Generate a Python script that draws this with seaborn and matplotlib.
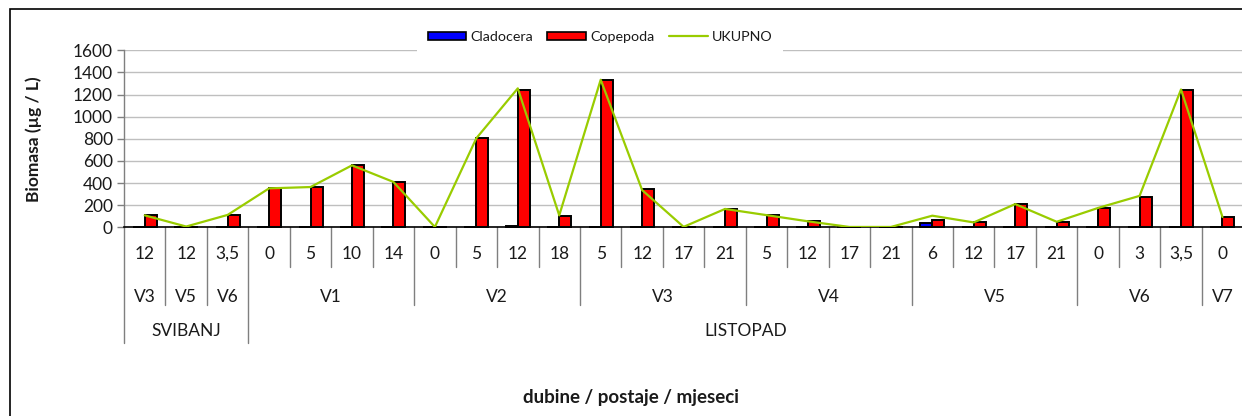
import numpy as np
import pandas as pd
import matplotlib
matplotlib.use("Agg")
import matplotlib.pyplot as plt
import matplotlib.transforms as mtransforms
from matplotlib.lines import Line2D
from matplotlib.patches import Patch, Rectangle
import seaborn as sns

# ---------------- data ----------------
months = ["SVIBANJ"] * 3 + ["LISTOPAD"] * 24
stations = ["V3", "V5", "V6",
            "V1", "V1", "V1", "V1",
            "V2", "V2", "V2", "V2",
            "V3", "V3", "V3", "V3",
            "V4", "V4", "V4", "V4",
            "V5", "V5", "V5", "V5",
            "V6", "V6", "V6",
            "V7"]
depths = ["12", "12", "3,5",
          "0", "5", "10", "14",
          "0", "5", "12", "18",
          "5", "12", "17", "21",
          "5", "12", "17", "21",
          "6", "12", "17", "21",
          "0", "3", "3,5",
          "0"]
cladocera = [0, 3, 0,
             0, 0, 0, 0,
             0, 0, 15, 0,
             5, 0, 0, 0,
             0, 0, 0, 0,
             36, 0, 0, 0,
             0, 6, 0,
             0]
copepoda = [108, 4, 108,
            352, 364, 560, 410,
            3, 805, 1241, 103,
            1329, 342, 3, 166,
            112, 55, 2, 3,
            69, 45, 211, 51,
            172, 274, 1241,
            93]
ukupno = [108, 7, 112,
          352, 364, 560, 410,
          3, 805, 1256, 108,
          1334, 336, 4, 166,
          110, 54, 3, 3,
          105, 44, 210, 50,
          175, 284, 1246,
          93]

keys = [f"{m}|{s}|{d}|{i}" for i, (m, s, d) in enumerate(zip(months, stations, depths))]
df = pd.DataFrame({
    "key": keys * 2,
    "group": ["Cladocera"] * len(keys) + ["Copepoda"] * len(keys),
    "value": cladocera + copepoda,
})

# ---------------- style ----------------
sns.set_theme(style="white")
plt.rcParams["font.family"] = ["Lato", "DejaVu Sans"]
TXT = "#1a1a1a"
GRID = "#bfbfbf"
SEP = "#7f7f7f"
GREEN = "#99CC00"
FS = 12.5

W, H = 1242, 416
fig = plt.figure(figsize=(W / 100, H / 100), dpi=100)
ax_left, ax_right = 124 / W, 1243.2 / W
ax_bottom, ax_top = 1 - 227.3 / H, 1 - 50.3 / H
ax = fig.add_axes([ax_left, ax_bottom, ax_right - ax_left, ax_top - ax_bottom])

sns.barplot(data=df, x="key", y="value", hue="group", order=keys,
            hue_order=["Cladocera", "Copepoda"],
            palette={"Cladocera": "#0000FF", "Copepoda": "#FF0000"},
            saturation=1, edgecolor="black", linewidth=1.4, width=0.58,
            errorbar=None, legend=False, ax=ax, zorder=3)
for p in ax.patches:
    p.set_clip_on(False)

xpos = np.arange(len(keys))
sns.lineplot(x=xpos, y=ukupno, color=GREEN, linewidth=1.6, ax=ax, zorder=4)

ax.set_xlim(-0.5, len(keys) - 0.5)
ax.set_ylim(0, 1600)
ax.set_yticks(np.arange(0, 1601, 200))
ax.yaxis.grid(True, color=GRID, linewidth=1.0)
ax.set_axisbelow(True)
for s in ["top", "right"]:
    ax.spines[s].set_visible(False)
ax.spines["left"].set_color(SEP)
ax.spines["left"].set_linewidth(1.0)
ax.spines["bottom"].set_color("black")
ax.spines["bottom"].set_linewidth(1.2)
ax.spines["bottom"].set_zorder(2.5)
ax.tick_params(axis="y", length=5, width=1, color=SEP, labelsize=FS,
               labelcolor=TXT, pad=3, left=True)
ax.tick_params(axis="x", length=0, labelbottom=False)
ax.set_xlabel("")
ax.set_ylabel("Biomasa (µg / L)", fontsize=FS, fontweight="bold", color=TXT)
ax.yaxis.set_label_coords((42 - 124) / (1243.2 - 124), 0.5)

# ---------------- multi-level category axis ----------------
tr = mtransforms.blended_transform_factory(ax.transData, fig.transFigure)
def fy(p):
    return 1 - p / H

y_axis = 227.3
y_depth_end, y_stat_end, y_month_end = 267, 305, 343

def group_spans(labels_list):
    spans = []
    start = 0
    for i in range(1, len(labels_list) + 1):
        if i == len(labels_list) or labels_list[i] != labels_list[start]:
            spans.append((start, i - 1, labels_list[start]))
            start = i
    return spans

for i, d in enumerate(depths):
    ax.text(i, fy(254), d, transform=tr, ha="center", va="center",
            fontsize=FS, color=TXT)

stat_keys = [m + s for m, s in zip(months, stations)]
stat_spans = group_spans(stat_keys)
for a, b, _ in stat_spans:
    ax.text((a + b) / 2, fy(297), stations[a], transform=tr, ha="center",
            va="center", fontsize=FS, color=TXT)
month_spans = group_spans(months)
for a, b, m in month_spans:
    ax.text((a + b) / 2, fy(331), m, transform=tr, ha="center",
            va="center", fontsize=FS, color=TXT)

month_bounds = {a - 0.5 for a, b, _ in month_spans} | {month_spans[-1][1] + 0.5}
stat_bounds = {a - 0.5 for a, b, _ in stat_spans}
for i in range(len(keys) + 1):
    xb = i - 0.5
    if xb in month_bounds:
        yend = y_month_end
    elif xb in stat_bounds:
        yend = y_stat_end
    else:
        yend = y_depth_end
    ax.add_line(Line2D([xb, xb], [fy(y_axis), fy(yend)], transform=tr,
                       color=SEP, linewidth=1.0, clip_on=False))

fig.text(631 / W, fy(397), "dubine / postaje / mjeseci", ha="center",
         va="center", fontsize=13.5, fontweight="bold", color=TXT)

# ---------------- legend ----------------
handles = [Patch(facecolor="#0000FF", edgecolor="black", linewidth=1.2),
           Patch(facecolor="#FF0000", edgecolor="black", linewidth=1.2),
           Line2D([0], [0], color=GREEN, linewidth=1.6)]
leg = ax.legend(handles, ["Cladocera", "Copepoda", "UKUPNO"], ncol=3,
                loc="center", bbox_to_anchor=(600 / W, fy(37)),
                bbox_transform=fig.transFigure, fontsize=10.3, frameon=True,
                facecolor="white", edgecolor="none", framealpha=1,
                fancybox=False, borderpad=0.7, handlelength=2.7,
                handleheight=0.55, handletextpad=0.3, columnspacing=1.0,
                labelcolor=TXT)
leg.set_zorder(10)

fig.patches.append(Rectangle((9.5 / W, -0.1), 2, fy(9.3) + 0.1,
                             transform=fig.transFigure, fill=False,
                             edgecolor="black", linewidth=1.2))

fig.savefig("out.png", dpi=100, facecolor="white")
